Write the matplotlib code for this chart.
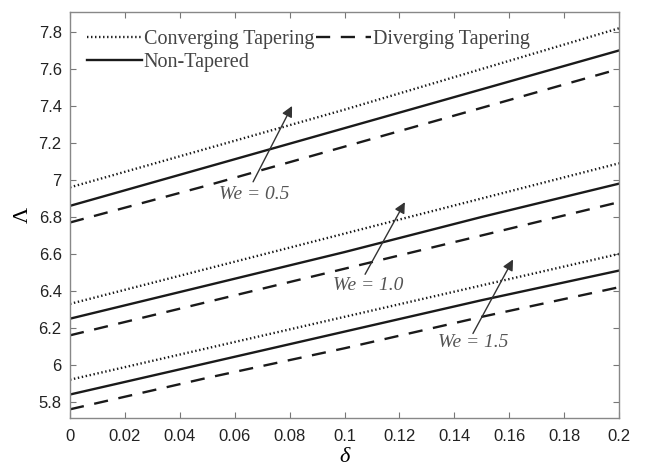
import matplotlib.pyplot as plt
from matplotlib.ticker import FixedLocator

# delta values along the channel
delta = [0.0, 0.05, 0.1, 0.15, 0.2]

# Lambda for each Weissenberg number: converging / non-tapered / diverging
conv_05 = [6.96, 7.17, 7.38, 7.60, 7.82]
flat_05 = [6.86, 7.07, 7.28, 7.49, 7.70]
div_05 = [6.77, 6.97, 7.18, 7.39, 7.60]

conv_10 = [6.33, 6.52, 6.71, 6.90, 7.09]
flat_10 = [6.25, 6.43, 6.61, 6.80, 6.98]
div_10 = [6.16, 6.34, 6.52, 6.70, 6.88]

conv_15 = [5.92, 6.09, 6.26, 6.43, 6.60]
flat_15 = [5.84, 6.01, 6.18, 6.35, 6.51]
div_15 = [5.76, 5.93, 6.09, 6.26, 6.42]

yticks = [5.8, 6.0, 6.2, 6.4, 6.6, 6.8, 7.0, 7.2, 7.4, 7.6, 7.8]
ytick_labels = ['5.8', '6', '6.2', '6.4', '6.6', '6.8', '7', '7.2', '7.4', '7.6', '7.8']
xticks = [0, 0.02, 0.04, 0.06, 0.08, 0.1, 0.12, 0.14, 0.16, 0.18, 0.2]
xtick_labels = ['0', '0.02', '0.04', '0.06', '0.08', '0.1', '0.12', '0.14', '0.16', '0.18', '0.2']

# labels: (text, text pos, arrow tail, arrow head)
we_notes = [
    ('We = 0.5', (0.0670, 6.92), (0.0667, 6.99), (0.0809, 7.40)),
    ('We = 1.0', (0.1085, 6.43), (0.1075, 6.49), (0.1220, 6.88)),
    ('We = 1.5', (0.1470, 6.12), (0.1468, 6.17), (0.1614, 6.57)),
]

fig = plt.figure(figsize=(6.46, 4.72), dpi=100)
ax = fig.add_axes([70 / 646, 1 - 418 / 472, 549 / 646, 406 / 472])

lc = '#1a1a1a'
dot = dict(color=lc, lw=1.7, linestyle=(0, (0.6, 1.1)))
solid = dict(color=lc, lw=1.7, linestyle='-')
dash = dict(color=lc, lw=1.7, linestyle=(0, (6, 4.5)))

ax.plot(delta, conv_05, label='Converging Tapering', **dot)
ax.plot(delta, flat_05, label='Non-Tapered', **solid)
ax.plot(delta, div_05, label='Diverging Tapering', **dash)
ax.plot(delta, conv_10, **dot)
ax.plot(delta, flat_10, **solid)
ax.plot(delta, div_10, **dash)
ax.plot(delta, conv_15, **dot)
ax.plot(delta, flat_15, **solid)
ax.plot(delta, div_15, **dash)

for text, tpos, tail, head in we_notes:
    ax.annotate('', xy=head, xytext=tail,
                arrowprops=dict(arrowstyle='-|>', color='#333333', lw=1.0,
                                mutation_scale=16, shrinkA=0, shrinkB=0))
    ax.text(tpos[0], tpos[1], text, ha='center', va='center',
            family='Liberation Serif', style='italic', fontsize=14,
            color='#555555')

ax.set_xlim(0, 0.2)
ax.set_ylim(5.713, 7.908)
ax.xaxis.set_major_locator(FixedLocator(xticks))
ax.yaxis.set_major_locator(FixedLocator(yticks))
ax.set_xticklabels(xtick_labels)
ax.set_yticklabels(ytick_labels)
ax.tick_params(direction='in', top=True, right=True, length=4, width=0.8,
               color='#777777', labelsize=12, labelcolor='#222222')
ax.tick_params(axis='x', pad=8)
ax.tick_params(axis='y', pad=6)
for lab in ax.get_xticklabels() + ax.get_yticklabels():
    lab.set_family('Liberation Sans')
for sp in ax.spines.values():
    sp.set_color('#888888')
    sp.set_linewidth(1.0)

ax.set_xlabel('δ', family='Liberation Serif', style='italic', fontsize=16,
              labelpad=3)
ax.set_ylabel('Λ', family='Liberation Serif', fontsize=16, labelpad=4)

h, l = ax.get_legend_handles_labels()
ax.legend([h[0], h[1], h[2]], [l[0], l[1], l[2]], ncol=2, loc='upper left',
          bbox_to_anchor=(0.006, 0.99), frameon=False,
          prop={'family': 'Liberation Serif', 'size': 14.5},
          labelcolor='#444444', handlelength=2.7, handletextpad=0.1,
          columnspacing=0.1, labelspacing=0.2, borderaxespad=0.4,
          borderpad=0.3)

fig.savefig('out.png', dpi=100)
